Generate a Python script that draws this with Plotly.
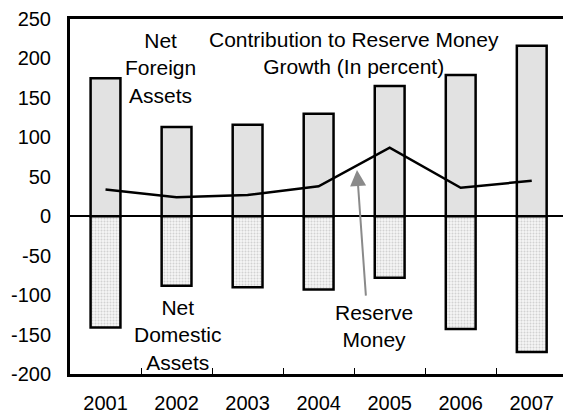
import plotly.graph_objects as go

# Contribution to reserve money growth, in percent
years = ["2001", "2002", "2003", "2004", "2005", "2006", "2007"]
net_foreign_assets = [175, 113, 116, 130, 165, 179, 216]
net_domestic_assets = [-141, -88, -90, -93, -78, -143, -172]
reserve_money = [34, 24, 27, 38, 87, 36, 45]

y_tick_values = [250, 200, 150, 100, 50, 0, -50, -100, -150, -200]
y_tick_labels = ["250", "200", "150", "100", "50", "0", "-50", "-100", "-150", "-200"]

FONT = "Liberation Sans, Arial, sans-serif"

fig = go.Figure()

fig.add_trace(go.Bar(
    x=years, y=net_foreign_assets, width=0.42,
    marker=dict(color="#e2e2e2", line=dict(color="black", width=2.5)),
    showlegend=False,
))
fig.add_trace(go.Bar(
    x=years, y=net_domestic_assets, width=0.42,
    marker=dict(
        color="white",
        line=dict(color="black", width=2.5),
        pattern=dict(shape=".", fgcolor="#d2d2d2", bgcolor="#f6f6f6",
                     size=3, solidity=0.35, fillmode="replace"),
    ),
    showlegend=False,
))
fig.add_trace(go.Scatter(
    x=years, y=reserve_money, mode="lines",
    line=dict(color="black", width=2.5),
    showlegend=False,
))

text_font = dict(family=FONT, size=21, color="black")
labels = [
    ("Net<br>Foreign<br>Assets", 0.183, 0.862),
    ("Contribution to Reserve Money<br>Growth (In percent)", 0.576, 0.903),
    ("Net<br>Domestic<br>Assets", 0.219, 0.111),
    ("Reserve<br>Money", 0.617, 0.134),
]
for txt, px, py in labels:
    fig.add_annotation(text=txt, x=px, y=py, xref="paper", yref="paper",
                       xanchor="center", yanchor="middle", showarrow=False,
                       font=text_font, align="center")

# Grey pointer from the "Reserve Money" label up to the line
fig.add_annotation(x=3.54, y=58.5, xref="x", yref="y", text="",
                   showarrow=True, ax=9, ay=127, axref="pixel", ayref="pixel",
                   arrowhead=2, arrowsize=1.6, arrowwidth=2,
                   arrowcolor="#8a8a8a")

fig.update_layout(
    width=563, height=416,
    margin=dict(l=70, r=0, t=19, b=42),
    paper_bgcolor="white", plot_bgcolor="white",
    barmode="overlay",
    font=dict(family=FONT, size=20, color="black"),
    xaxis=dict(
        type="category", range=[-0.5, 6.44], automargin=False,
        showline=True, linecolor="black", linewidth=2.5, mirror=True,
        ticks="inside", ticklen=6, tickwidth=1, tickcolor="black",
        tickson="boundaries", showgrid=False,
        ticklabelstandoff=9,
        tickfont=dict(family=FONT, size=20),
    ),
    yaxis=dict(
        range=[-200, 250], automargin=False,
        tickmode="array", tickvals=y_tick_values, ticktext=y_tick_labels,
        showline=True, linecolor="black", linewidth=3,
        ticks="", showgrid=False,
        zeroline=True, zerolinecolor="black", zerolinewidth=1.5,
        ticklabelstandoff=12,
        tickfont=dict(family=FONT, size=20),
    ),
)

fig.write_html("out.html")
